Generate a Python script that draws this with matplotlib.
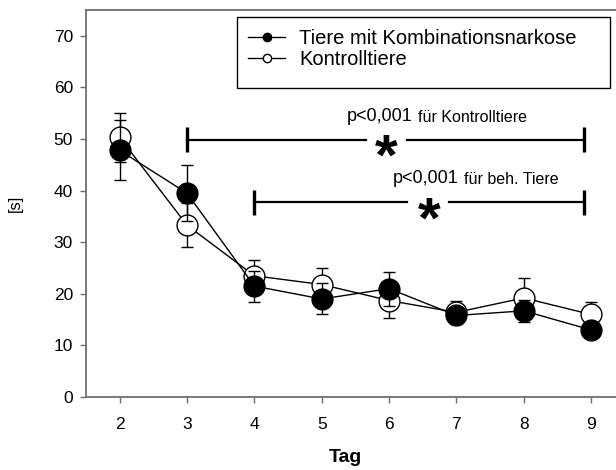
import matplotlib
matplotlib.use("Agg")
import matplotlib.pyplot as plt
from matplotlib.lines import Line2D
from matplotlib.patches import Rectangle

plt.rcParams['font.family'] = ['Liberation Sans', 'DejaVu Sans']

# Days of the test series
days = [2, 3, 4, 5, 6, 7, 8, 9]

# Mean latency [s] and standard error
narkose_mean = [47.8, 39.5, 21.5, 19.0, 21.0, 15.8, 16.7, 13.0]
narkose_err = [5.8, 5.4, 3.0, 3.0, 3.3, 1.5, 2.1, 1.5]
kontrolle_mean = [50.3, 33.3, 23.5, 21.8, 18.7, 16.4, 19.2, 16.0]
kontrolle_err = [4.8, 4.3, 3.0, 3.2, 3.3, 2.2, 3.8, 2.4]

series_labels = ["Tiere mit Kombinationsnarkose", "Kontrolltiere"]
xlabel = "Tag"
ylabel = "[s]"
yticks = [0, 10, 20, 30, 40, 50, 60, 70]

fig = plt.figure(figsize=(6.16, 4.70), dpi=100)
ax = fig.add_axes([0.1396, 0.1553, 0.8604, 0.8234])

spine_col = '#6e6e6e'

# Controls first, treated animals drawn on top
ax.errorbar(days, kontrolle_mean, yerr=kontrolle_err, color='black', lw=1.0,
            marker='o', ms=15, mfc='white', mec='black', mew=1.0,
            capsize=4.6, elinewidth=1.0, capthick=1.0, zorder=3)
ax.errorbar(days, narkose_mean, yerr=narkose_err, color='black', lw=1.0,
            marker='o', ms=15, mfc='black', mec='black', mew=1.0,
            capsize=4.6, elinewidth=1.0, capthick=1.0, zorder=4)


def bracket(x0, x1, y, gap0, gap1, star_x, p_x, text_y, f_text):
    """Significance bar with a gap for the asterisk and a p-value note."""
    ax.plot([x0, gap0], [y, y], color='black', lw=1.6, zorder=2)
    ax.plot([gap1, x1], [y, y], color='black', lw=1.6, zorder=2)
    for xe in (x0, x1):
        ax.plot([xe, xe], [y - 2.5, y + 2.5], color='black', lw=2.4,
                solid_capstyle='butt', zorder=2)
    ax.text(star_x, y - 3.9, "*", fontsize=42, fontweight='bold',
            ha='center', va='center')
    p = ax.text(p_x, text_y, "p<0,001", fontsize=13, ha='left', va='baseline')
    ax.annotate(f_text, xy=(1, 0), xycoords=p, xytext=(4, 0),
                textcoords='offset points', fontsize=11.5,
                ha='left', va='bottom')


bracket(3.0, 8.9, 49.9, 5.66, 6.26, 5.96, 5.37, 53.4, "für Kontrolltiere")
bracket(4.0, 8.9, 37.7, 6.26, 6.885, 6.6, 6.05, 41.4, "für beh. Tiere")

ax.set_xlim(1.5, 9.37)
ax.set_ylim(0, 75)
ax.set_xticks(days)
ax.set_yticks(yticks)
ax.tick_params(axis='both', direction='out', length=4.3, width=1.0,
               color=spine_col, labelsize=12.5, pad=5)
ax.tick_params(axis='x', pad=10)
ax.spines['right'].set_visible(False)
for s in ('left', 'bottom', 'top'):
    ax.spines[s].set_color(spine_col)
    ax.spines[s].set_linewidth(1.3)

ax.set_xlabel(xlabel, fontsize=14, fontweight='bold')
ax.xaxis.set_label_coords(0.489, -0.135)
ax.set_ylabel(ylabel, fontsize=12, labelpad=22)

# Legend: entries without frame, box drawn separately with extra room below
handles = [
    Line2D([], [], color='black', lw=1.0, marker='o', ms=6,
           mfc='black', mec='black'),
    Line2D([], [], color='black', lw=1.0, marker='o', ms=6,
           mfc='white', mec='black'),
]
ax.legend(handles, series_labels, loc='upper left',
          bbox_to_anchor=(0.3057, 0.950), fontsize=14.5,
          handlelength=1.85, handletextpad=0.7, borderpad=0.0,
          labelspacing=0.1, borderaxespad=0.0, frameon=False)
ax.add_patch(Rectangle((0.2849, 0.7985), 0.7038, 0.1834,
                       transform=ax.transAxes, facecolor='white',
                       edgecolor='black', lw=1.0, zorder=4.5))

fig.savefig("out.png", dpi=100)
